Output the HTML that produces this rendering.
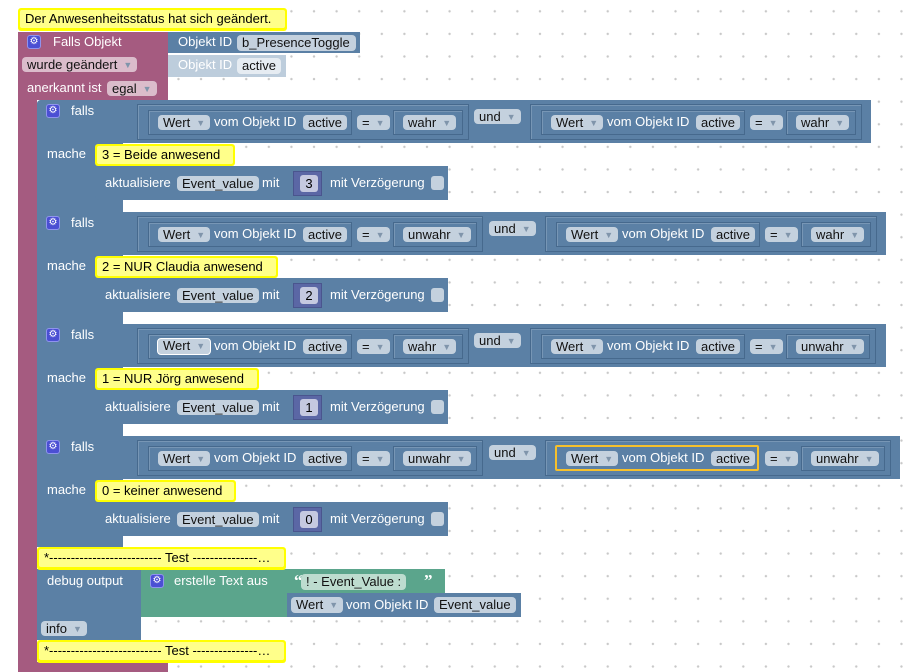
<!DOCTYPE html>
<html><head><meta charset="utf-8">
<style>
*{margin:0;padding:0;box-sizing:border-box}
body{width:918px;height:672px;overflow:hidden;position:relative;font-family:"Liberation Sans",Arial,sans-serif;font-size:13px;
background-color:#fff;background-image:radial-gradient(circle,#c8c8c8 1px,transparent 1.4px);background-size:22.6px 22.6px;background-position:9px 0px}
div{position:absolute}
.m{background:#a55b80}
.b{background:#5b80a5}
.g{background:#5ba58c}
.t{color:#fff;white-space:nowrap;line-height:16px}
.f{background:#c4d1de;color:#111;border-radius:4px;line-height:15px;height:15px;padding:0 5px;white-space:nowrap}
.f i{font-style:normal;color:#8095ab;font-size:9px;margin-left:6px;vertical-align:1px}
.ol{border:1px solid #46698d;box-shadow:inset 1px 1px 0 #7796b5}
.gear{width:14px;height:14px;background:#4b4fd3;border-radius:3px;border:1px solid #8f93ee;color:#fff;font-size:10px;line-height:12px;text-align:center}
.c{background:#ffff00;border-radius:3px;padding:2px}
.c span{display:block;background:#ffff8a;border-radius:2px;color:#000;line-height:17px;padding-left:5px;white-space:nowrap;height:18px}
.blk{left:0;width:918px;height:112px}
.num{background:#5b67a5;width:29px;height:25px;border:1px solid #4a558e}
.num span{position:absolute;left:6px;top:3px;width:18px;height:17px;background:#c5c9e0;border-radius:3px;color:#000;text-align:center;line-height:17px}
.cb{width:13px;height:14px;background:#c4d1de;border-radius:3px}
.q{color:#fff;font-weight:bold;font-size:17px;line-height:18px;font-family:"Liberation Serif",serif}
</style></head><body>

<!-- maroon event block -->
<div class="m" style="left:18px;top:32px;width:150px;height:68px;border-radius:4px 0 0 0"></div>
<div class="m" style="left:18px;top:32px;width:19px;height:640px"></div>
<div class="m" style="left:18px;top:662px;width:150px;height:10px;border-radius:0 0 0 6px"></div>
<div class="gear" style="left:27px;top:35px">⚙</div>
<div class="t" style="left:53px;top:34px">Falls Objekt</div>
<div class="f" style="left:22px;top:57px;background:#dbbccb">wurde geändert<i>▼</i></div>
<div class="t" style="left:27px;top:80px">anerkannt ist</div>
<div class="f" style="left:107px;top:81px;background:#dbbccb">egal<i>▼</i></div>

<div class="b" style="left:168px;top:32px;width:192px;height:21px"></div>
<div class="t" style="left:178px;top:34px">Objekt ID</div>
<div class="f" style="left:237px;top:35px;width:119px;height:16px">b_PresenceToggle</div>
<div style="left:168px;top:55px;width:118px;height:22px;background:#bdcddc"></div>
<div class="t" style="left:178px;top:57px">Objekt ID</div>
<div class="f" style="left:237px;top:58px;background:#e6ecf2;height:16px">active</div>

<!-- top comment -->
<div class="c" style="left:18px;top:8px;width:269px;height:23px"><span>Der Anwesenheitsstatus hat sich geändert.</span></div>

<!-- blue column -->
<div class="b" style="left:37px;top:100px;width:86px;height:447px;border-radius:4px 0 0 0"></div>

<!-- BLOCK 1 -->
<div class="blk" style="top:100px">
 <div class="b" style="left:37px;top:0;width:834px;height:43px;border-radius:4px 0 0 0"></div>
 <div class="gear" style="left:46px;top:4px">⚙</div>
 <div class="t" style="left:71px;top:3px">falls</div>
 <div class="t" style="left:47px;top:46px">mache</div>
 <div class="ol" style="left:137px;top:4px;width:332px;height:36px"></div>
 <div class="ol" style="left:148px;top:10px;width:204px;height:25px"></div>
 <div class="f" style="left:158px;top:15px">Wert<i>▼</i></div>
 <div class="t" style="left:214px;top:14px">vom Objekt ID</div>
 <div class="f" style="left:303px;top:15px">active</div>
 <div class="f" style="left:357px;top:15px">=<i>▼</i></div>
 <div class="ol" style="left:393px;top:10px;width:70px;height:25px"></div>
 <div class="f" style="left:403px;top:15px">wahr<i>▼</i></div>
 <div class="f" style="left:474px;top:9px">und<i>▼</i></div>
 <div class="ol" style="left:530px;top:4px;width:332px;height:36px"></div>
 <div class="ol" style="left:541px;top:10px;width:204px;height:25px"></div>
 <div class="f" style="left:551px;top:15px">Wert<i>▼</i></div>
 <div class="t" style="left:607px;top:14px">vom Objekt ID</div>
 <div class="f" style="left:696px;top:15px">active</div>
 <div class="f" style="left:750px;top:15px">=<i>▼</i></div>
 <div class="ol" style="left:786px;top:10px;width:70px;height:25px"></div>
 <div class="f" style="left:796px;top:15px">wahr<i>▼</i></div>
 <div class="c" style="left:95px;top:44px;width:140px;height:22px"><span>3 = Beide anwesend</span></div>
 <div class="b" style="left:95px;top:66px;width:353px;height:34px;border-radius:0 0 0 4px"></div>
 <div class="t" style="left:105px;top:75px">aktualisiere</div>
 <div class="f" style="left:177px;top:76px">Event_value</div>
 <div class="t" style="left:262px;top:75px">mit</div>
 <div class="num" style="left:293px;top:71px"><span>3</span></div>
 <div class="t" style="left:330px;top:75px">mit Verzögerung</div>
 <div class="cb" style="left:431px;top:76px"></div>
</div>

<!-- BLOCK 2 -->
<div class="blk" style="top:212px">
 <div class="b" style="left:37px;top:0;width:849px;height:43px"></div>
 <div class="gear" style="left:46px;top:4px">⚙</div>
 <div class="t" style="left:71px;top:3px">falls</div>
 <div class="t" style="left:47px;top:46px">mache</div>
 <div class="ol" style="left:137px;top:4px;width:346px;height:36px"></div>
 <div class="ol" style="left:148px;top:10px;width:204px;height:25px"></div>
 <div class="f" style="left:158px;top:15px">Wert<i>▼</i></div>
 <div class="t" style="left:214px;top:14px">vom Objekt ID</div>
 <div class="f" style="left:303px;top:15px">active</div>
 <div class="f" style="left:357px;top:15px">=<i>▼</i></div>
 <div class="ol" style="left:393px;top:10px;width:84px;height:25px"></div>
 <div class="f" style="left:403px;top:15px">unwahr<i>▼</i></div>
 <div class="f" style="left:489px;top:9px">und<i>▼</i></div>
 <div class="ol" style="left:545px;top:4px;width:332px;height:36px"></div>
 <div class="ol" style="left:556px;top:10px;width:204px;height:25px"></div>
 <div class="f" style="left:566px;top:15px">Wert<i>▼</i></div>
 <div class="t" style="left:622px;top:14px">vom Objekt ID</div>
 <div class="f" style="left:711px;top:15px">active</div>
 <div class="f" style="left:765px;top:15px">=<i>▼</i></div>
 <div class="ol" style="left:801px;top:10px;width:70px;height:25px"></div>
 <div class="f" style="left:811px;top:15px">wahr<i>▼</i></div>
 <div class="c" style="left:95px;top:44px;width:183px;height:22px"><span>2 = NUR Claudia anwesend</span></div>
 <div class="b" style="left:95px;top:66px;width:353px;height:34px"></div>
 <div class="t" style="left:105px;top:75px">aktualisiere</div>
 <div class="f" style="left:177px;top:76px">Event_value</div>
 <div class="t" style="left:262px;top:75px">mit</div>
 <div class="num" style="left:293px;top:71px"><span>2</span></div>
 <div class="t" style="left:330px;top:75px">mit Verzögerung</div>
 <div class="cb" style="left:431px;top:76px"></div>
</div>

<!-- BLOCK 3 -->
<div class="blk" style="top:324px">
 <div class="b" style="left:37px;top:0;width:849px;height:43px"></div>
 <div class="gear" style="left:46px;top:4px">⚙</div>
 <div class="t" style="left:71px;top:3px">falls</div>
 <div class="t" style="left:47px;top:46px">mache</div>
 <div class="ol" style="left:137px;top:4px;width:332px;height:36px"></div>
 <div class="ol" style="left:148px;top:10px;width:204px;height:25px"></div>
 <div class="f" style="left:157px;top:14px;border:1.5px solid #fff;height:17px;line-height:14px">Wert<i>▼</i></div>
 <div class="t" style="left:214px;top:14px">vom Objekt ID</div>
 <div class="f" style="left:303px;top:15px">active</div>
 <div class="f" style="left:357px;top:15px">=<i>▼</i></div>
 <div class="ol" style="left:393px;top:10px;width:70px;height:25px"></div>
 <div class="f" style="left:403px;top:15px">wahr<i>▼</i></div>
 <div class="f" style="left:474px;top:9px">und<i>▼</i></div>
 <div class="ol" style="left:530px;top:4px;width:346px;height:36px"></div>
 <div class="ol" style="left:541px;top:10px;width:204px;height:25px"></div>
 <div class="f" style="left:551px;top:15px">Wert<i>▼</i></div>
 <div class="t" style="left:607px;top:14px">vom Objekt ID</div>
 <div class="f" style="left:696px;top:15px">active</div>
 <div class="f" style="left:750px;top:15px">=<i>▼</i></div>
 <div class="ol" style="left:786px;top:10px;width:84px;height:25px"></div>
 <div class="f" style="left:796px;top:15px">unwahr<i>▼</i></div>
 <div class="c" style="left:95px;top:44px;width:164px;height:22px"><span>1 = NUR Jörg anwesend</span></div>
 <div class="b" style="left:95px;top:66px;width:353px;height:34px"></div>
 <div class="t" style="left:105px;top:75px">aktualisiere</div>
 <div class="f" style="left:177px;top:76px">Event_value</div>
 <div class="t" style="left:262px;top:75px">mit</div>
 <div class="num" style="left:293px;top:71px"><span>1</span></div>
 <div class="t" style="left:330px;top:75px">mit Verzögerung</div>
 <div class="cb" style="left:431px;top:76px"></div>
</div>

<!-- BLOCK 4 -->
<div class="blk" style="top:436px">
 <div class="b" style="left:37px;top:0;width:863px;height:43px"></div>
 <div class="gear" style="left:46px;top:4px">⚙</div>
 <div class="t" style="left:71px;top:3px">falls</div>
 <div class="t" style="left:47px;top:46px">mache</div>
 <div class="ol" style="left:137px;top:4px;width:346px;height:36px"></div>
 <div class="ol" style="left:148px;top:10px;width:204px;height:25px"></div>
 <div class="f" style="left:158px;top:15px">Wert<i>▼</i></div>
 <div class="t" style="left:214px;top:14px">vom Objekt ID</div>
 <div class="f" style="left:303px;top:15px">active</div>
 <div class="f" style="left:357px;top:15px">=<i>▼</i></div>
 <div class="ol" style="left:393px;top:10px;width:84px;height:25px"></div>
 <div class="f" style="left:403px;top:15px">unwahr<i>▼</i></div>
 <div class="f" style="left:489px;top:9px">und<i>▼</i></div>
 <div class="ol" style="left:545px;top:4px;width:346px;height:36px"></div>
 <div style="left:555px;top:9px;width:204px;height:26px;border:2.5px solid #f6c02c;border-radius:2px"></div>
 <div class="f" style="left:566px;top:15px">Wert<i>▼</i></div>
 <div class="t" style="left:622px;top:14px">vom Objekt ID</div>
 <div class="f" style="left:711px;top:15px">active</div>
 <div class="f" style="left:765px;top:15px">=<i>▼</i></div>
 <div class="ol" style="left:801px;top:10px;width:84px;height:25px"></div>
 <div class="f" style="left:811px;top:15px">unwahr<i>▼</i></div>
 <div class="c" style="left:95px;top:44px;width:141px;height:22px"><span>0 = keiner anwesend</span></div>
 <div class="b" style="left:95px;top:66px;width:353px;height:34px"></div>
 <div class="t" style="left:105px;top:75px">aktualisiere</div>
 <div class="f" style="left:177px;top:76px">Event_value</div>
 <div class="t" style="left:262px;top:75px">mit</div>
 <div class="num" style="left:293px;top:71px"><span>0</span></div>
 <div class="t" style="left:330px;top:75px">mit Verzögerung</div>
 <div class="cb" style="left:431px;top:76px"></div>
</div>

<!-- debug section -->
<div class="b" style="left:37px;top:569px;width:104px;height:71px"></div>
<div class="t" style="left:47px;top:573px">debug output</div>
<div class="g" style="left:141px;top:569px;width:146px;height:48px"></div>
<div class="gear" style="left:150px;top:574px">⚙</div>
<div class="t" style="left:174px;top:573px">erstelle Text aus</div>
<div class="g" style="left:287px;top:569px;width:158px;height:24px"></div>
<div class="q" style="left:294px;top:572px">“</div>
<div class="f" style="left:301px;top:574px;background:#bddccf;height:16px">! - Event_Value :</div>
<div class="q" style="left:424px;top:572px">”</div>
<div class="b" style="left:287px;top:593px;width:234px;height:24px"></div>
<div class="f" style="left:291px;top:597px;height:16px">Wert<i>▼</i></div>
<div class="t" style="left:346px;top:597px">vom Objekt ID</div>
<div class="f" style="left:434px;top:597px;height:16px">Event_value</div>
<div class="f" style="left:41px;top:621px">info<i>▼</i></div>

<div class="c" style="left:37px;top:547px;width:249px;height:23px"><span>*-------------------------- Test ---------------…</span></div>
<div class="c" style="left:37px;top:640px;width:249px;height:23px"><span>*-------------------------- Test ---------------…</span></div>

</body></html>
